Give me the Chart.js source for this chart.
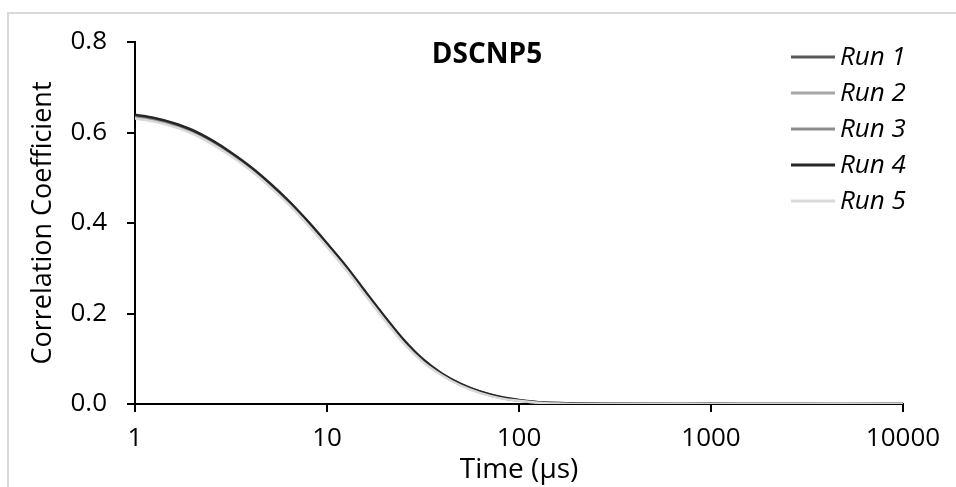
<!DOCTYPE html>
<html>
<head>
<meta charset="utf-8">
<script src="https://cdn.jsdelivr.net/npm/chart.js@4"></script>
<style>
  body { margin: 0; background: #fff; overflow: hidden; }
  #frame {
    position: absolute; left: 7px; top: 12px; width: 1000px; height: 500px;
    border-left: 2px solid #d9d9d9; border-top: 2px solid #d9d9d9;
  }
  #wrap { position: absolute; left: 0; top: 0; width: 956px; height: 487px; }
</style>
</head>
<body>
<div id="frame"></div>
<div id="wrap"><canvas id="corrChart" width="956" height="487"></canvas></div>
<script>
// ----------- data: correlation curves of sample DSCNP5 -----------
const timeUs = [1, 1.26, 1.58, 2, 2.51, 3.16, 3.98, 5.01, 6.31, 7.94, 10, 12.6, 15.8, 20, 25.1, 31.6, 39.8, 50.1,
                63.1, 79.4, 100, 126, 158, 200, 316, 501, 1000, 2000, 5000, 10000];

const run1 = [0.637, 0.630, 0.619, 0.603, 0.581, 0.554, 0.523, 0.487, 0.447, 0.402, 0.353, 0.302, 0.247, 0.191, 0.140,
              0.097, 0.066, 0.043, 0.027, 0.015, 0.008, 0.004, 0.002, 0.001, 0, 0.0005, 0, 0, 0, 0];
const run2 = [0.633, 0.626, 0.615, 0.599, 0.577, 0.550, 0.519, 0.483, 0.443, 0.398, 0.349, 0.298, 0.243, 0.187, 0.136,
              0.094, 0.064, 0.041, 0.025, 0.014, 0.007, 0.003, 0.001, 0.0005, 0, 0, 0, 0.0005, 0, 0];
const run3 = [0.635, 0.628, 0.617, 0.601, 0.579, 0.552, 0.521, 0.485, 0.445, 0.400, 0.351, 0.300, 0.245, 0.189, 0.138,
              0.096, 0.065, 0.042, 0.026, 0.015, 0.008, 0.004, 0.0015, 0.0005, 0, 0, 0, 0, 0, 0];
const run4 = [0.639, 0.632, 0.621, 0.605, 0.583, 0.556, 0.525, 0.489, 0.449, 0.404, 0.355, 0.304, 0.249, 0.193, 0.142,
              0.099, 0.067, 0.044, 0.027, 0.016, 0.009, 0.004, 0.002, 0.001, 0.0005, 0, 0.0005, 0, 0, 0];
const run5 = [0.631, 0.624, 0.613, 0.597, 0.575, 0.548, 0.517, 0.481, 0.441, 0.396, 0.347, 0.296, 0.241, 0.185, 0.134,
              0.093, 0.063, 0.040, 0.024, 0.013, 0.007, 0.003, 0.001, 0, 0, 0, 0, 0, 0.0005, 0];

const runNames = ['Run 1', 'Run 2', 'Run 3', 'Run 4', 'Run 5'];
const runColors = ['#595959', '#a6a6a6', '#8c8c8c', '#262626', '#d9d9d9'];
const xTicks = [1, 10, 100, 1000, 10000];
const yTicks = [0, 0.2, 0.4, 0.6, 0.8];

const FONT = '"Open Sans", "DejaVu Sans", sans-serif';

const toPoints = vals => vals.map((v, i) => ({ x: timeUs[i], y: v }));

// title + legend are drawn inside the plot area
const overlayPlugin = {
    id: 'overlay',
    afterDraw(chart) {
        const ctx = chart.ctx;
        ctx.save();
        ctx.fillStyle = '#000';
        ctx.font = 'bold 28px ' + FONT;
        ctx.textAlign = 'center';
        ctx.textBaseline = 'alphabetic';
        ctx.fillText('DSCNP5', 487, 63);

        ctx.font = 'italic 26px ' + FONT;
        ctx.textAlign = 'left';
        ctx.textBaseline = 'middle';
        chart.data.datasets.forEach((ds, i) => {
            const y = 57 + i * 36;
            ctx.strokeStyle = ds.borderColor;
            ctx.lineWidth = 3;
            ctx.beginPath();
            ctx.moveTo(791, y);
            ctx.lineTo(835, y);
            ctx.stroke();
            ctx.fillStyle = '#000';
            ctx.fillText(ds.label, 840, y + 1);
        });
        ctx.restore();
    }
};

const datasets = [run1, run2, run3, run4, run5].map((vals, i) => ({
    label: runNames[i],
    data: toPoints(vals),
    borderColor: runColors[i],
    borderWidth: 2.5,
    pointRadius: 0,
    cubicInterpolationMode: 'monotone',
    fill: false,
    order: 4 - i
}));

new Chart(document.getElementById('corrChart'), {
    type: 'line',
    data: { datasets: datasets },
    plugins: [overlayPlugin],
    options: {
        responsive: false,
        animation: false,
        layout: { padding: { left: 0, top: 42, right: 53, bottom: 0 } },
        plugins: {
            legend: { display: false },
            tooltip: { enabled: false }
        },
        scales: {
            x: {
                type: 'logarithmic',
                min: 1,
                max: 10000,
                afterBuildTicks: scale => { scale.ticks = xTicks.map(v => ({ value: v })); },
                afterFit: scale => { scale.height = 83; },
                ticks: {
                    color: '#000',
                    font: { family: FONT, size: 26 },
                    padding: 11,
                    maxRotation: 0,
                    autoSkip: false,
                    callback: v => String(v)
                },
                grid: { drawOnChartArea: false, drawTicks: true, tickLength: 8, color: '#000', lineWidth: 2 },
                border: { display: true, color: '#000', width: 2 },
                title: {
                    display: true,
                    text: 'Time (µs)',
                    color: '#000',
                    font: { family: FONT, size: 28 },
                    padding: { top: 0, bottom: 0 }
                }
            },
            y: {
                type: 'linear',
                min: 0,
                max: 0.8,
                afterBuildTicks: scale => { scale.ticks = yTicks.map(v => ({ value: v })); },
                afterFit: scale => { scale.width = 135; },
                ticks: {
                    color: '#000',
                    font: { family: FONT, size: 26 },
                    padding: 20,
                    callback: v => Number(v).toFixed(1)
                },
                grid: { drawOnChartArea: false, drawTicks: true, tickLength: 8, color: '#000', lineWidth: 2 },
                border: { display: true, color: '#000', width: 2 },
                title: {
                    display: true,
                    text: 'Correlation Coefficient',
                    color: '#000',
                    font: { family: FONT, size: 27 },
                    padding: { top: 27, bottom: 0 }
                }
            }
        }
    }
});
</script>
</body>
</html>
